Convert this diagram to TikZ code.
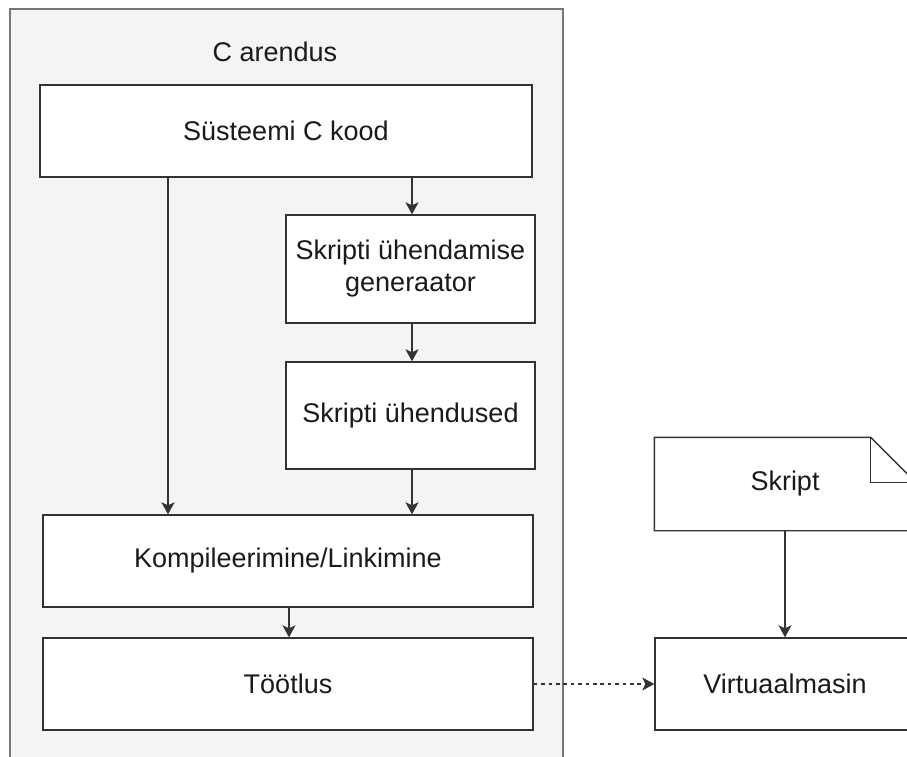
\documentclass[tikz,border=0pt]{standalone}
\usepackage{fontspec}
\setmainfont{Liberation Sans}
\usetikzlibrary{arrows.meta}
\definecolor{contfill}{HTML}{F4F4F4}
\definecolor{contline}{HTML}{777777}
\definecolor{boxline}{HTML}{333333}
\definecolor{txt}{HTML}{1A1A1A}
\tikzset{
  box/.style={draw=boxline, fill=white, line width=1.4pt, inner sep=0pt, text=txt,
    font=\fontsize{27}{32}\selectfont, align=center},
  arr/.style={draw=boxline, line width=1.3pt, -{Stealth[length=12pt,width=13pt,inset=3pt]}},
  darr/.style={arr, dash pattern=on 3.7pt off 3.7pt},
}
\begin{document}
\begin{tikzpicture}[x=1pt,y=-1pt]
\useasboundingbox (0,0) rectangle (907,756);
\clip (0,0) rectangle (907,756);
% container
\draw[draw=contline, fill=contfill, line width=1.2pt] (10,9) rectangle (563,780);
\node[text=txt, font=\fontsize{27}{32}\selectfont] (title) at (275,52) {C arendus};
% boxes
\node[box, minimum width=492pt, minimum height=92pt] (s) at (286,131) {Süsteemi C kood};
\node[box, minimum width=249pt, minimum height=108pt] (g) at (410.5,269) {Skripti ühendamise\\generaator};
\node[box, minimum width=249pt, minimum height=107pt] (u) at (410.5,415.5) {Skripti ühendused};
\node[box, minimum width=490pt, minimum height=92pt] (k) at (288,561) {Kompileerimine/Linkimine};
\node[box, minimum width=490pt, minimum height=92pt] (t) at (288,684) {Töötlus};
\node[box, minimum width=260pt, minimum height=92pt] (v) at (785,684) {Virtuaalmasin};
% note shape
\node[box, draw=none, fill=none, minimum width=260pt, minimum height=92pt] (n) at (785,484) {Skript};
\draw[draw=boxline, fill=white, line width=1.4pt]
  (n.north west) -- ([xshift=-45pt]n.north east) -- ([yshift=-45pt]n.north east)
  -- (n.south east) -- (n.south west) -- cycle;
\draw[draw=boxline, line width=1.4pt]
  ([xshift=-45pt]n.north east) -- ([xshift=-45pt,yshift=-45pt]n.north east) -- ([yshift=-45pt]n.north east);
\node[text=txt, font=\fontsize{27}{32}\selectfont] at (n.center) {Skript};
% connectors
\coordinate (c1) at (168,0);
\coordinate (c2) at (412,0);
\coordinate (c3) at (289,0);
\draw[arr] (s.south -| c1) -- (k.north -| c1);
\draw[arr] (s.south -| c2) -- (g.north -| c2);
\draw[arr] (g.south -| c2) -- (u.north -| c2);
\draw[arr] (u.south -| c2) -- (k.north -| c2);
\draw[arr] (k.south -| c3) -- (t.north -| c3);
\draw[arr] (n.south) -- (v.north);
\draw[darr] (t.east) -- (v.west);
\end{tikzpicture}
\end{document}
